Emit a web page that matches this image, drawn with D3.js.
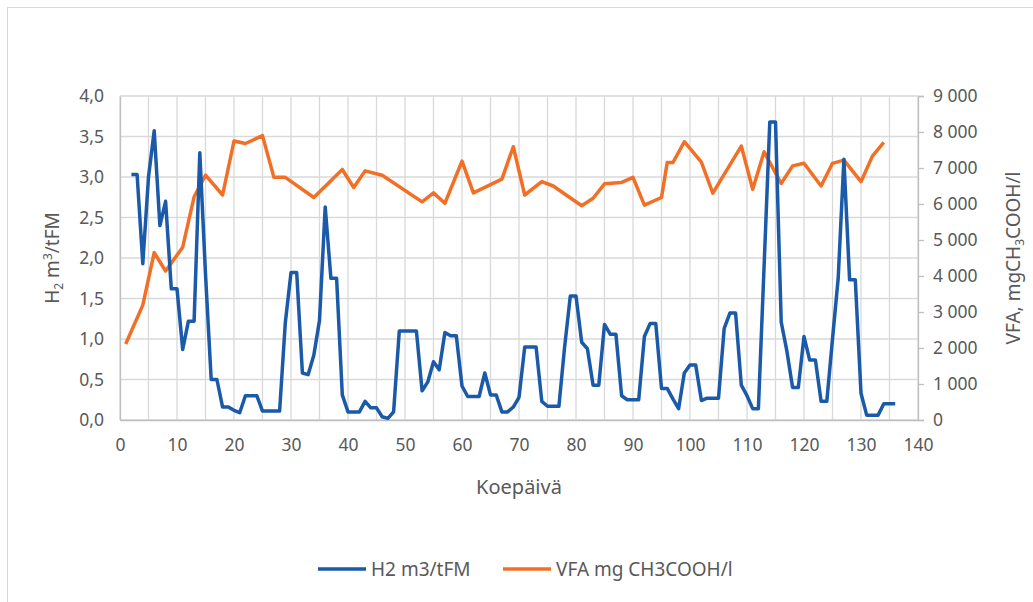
<!DOCTYPE html>
<html>
<head>
<meta charset="utf-8">
<script src="https://cdn.jsdelivr.net/npm/d3@7"></script>
<style>
  body { margin: 0; background: #fff; }
  text { font-family: "Noto Sans", sans-serif; fill: #595959; }
</style>
</head>
<body>
<div id="chart"></div>
<script>
// H2 yield, m3 per tonne fresh matter (left axis)
var h2Days = [2, 3, 4, 5, 6, 7, 8, 9, 10, 11, 12, 13, 14, 15, 16, 17, 18, 19, 20, 21,
    22, 23, 24, 25, 26, 27, 28, 29, 30, 31, 32, 33, 34, 35, 36, 37, 38, 39, 40, 41,
    42, 43, 44, 45, 46, 47, 48, 49, 50, 51, 52, 53, 54, 55, 56, 57, 58, 59, 60, 61,
    62, 63, 64, 65, 66, 67, 68, 69, 70, 71, 72, 73, 74, 75, 76, 77, 78, 79, 80, 81,
    82, 83, 84, 85, 86, 87, 88, 89, 90, 91, 92, 93, 94, 95, 96, 97, 98, 99, 100, 101,
    102, 103, 104, 105, 106, 107, 108, 109, 110, 111, 112, 113, 114, 115, 116, 117, 118, 119, 120, 121,
    122, 123, 124, 125, 126, 127, 128, 129, 130, 131, 132, 133, 134, 135, 136];
var h2Values = [3.03, 3.03, 1.93, 3.0, 3.57, 2.40, 2.70, 1.62, 1.62, 0.87, 1.22, 1.22, 3.30, 1.80, 0.50, 0.50, 0.16, 0.16, 0.12, 0.09,
    0.30, 0.30, 0.30, 0.11, 0.11, 0.11, 0.11, 1.20, 1.82, 1.82, 0.58, 0.56, 0.80, 1.23, 2.63, 1.75, 1.75, 0.31, 0.10, 0.10,
    0.10, 0.23, 0.15, 0.15, 0.04, 0.02, 0.10, 1.10, 1.10, 1.10, 1.10, 0.36, 0.47, 0.72, 0.62, 1.08, 1.04, 1.04, 0.42, 0.29,
    0.29, 0.29, 0.58, 0.31, 0.31, 0.10, 0.10, 0.16, 0.28, 0.90, 0.90, 0.90, 0.23, 0.17, 0.17, 0.17, 0.90, 1.53, 1.53, 0.96,
    0.88, 0.43, 0.43, 1.18, 1.06, 1.06, 0.30, 0.25, 0.25, 0.25, 1.03, 1.19, 1.19, 0.39, 0.39, 0.26, 0.14, 0.58, 0.68, 0.68,
    0.24, 0.27, 0.27, 0.27, 1.13, 1.32, 1.32, 0.43, 0.30, 0.14, 0.14, 1.90, 3.68, 3.68, 1.21, 0.85, 0.40, 0.40, 1.03, 0.74,
    0.74, 0.23, 0.23, 1.00, 1.75, 3.22, 1.73, 1.73, 0.33, 0.06, 0.06, 0.06, 0.20, 0.20, 0.20];

// VFA, mg CH3COOH/l (right axis)
var vfaDays = [1, 4, 6, 8, 11, 13, 15, 18, 20, 22, 25, 27, 29, 34, 39, 41, 43, 46, 53, 55,
    57, 60, 62, 67, 69, 71, 74, 76, 81, 83, 85, 88, 90, 92, 95, 96, 97, 99, 102, 104,
    109, 111, 113, 116, 118, 120, 123, 125, 127, 130, 132, 134];
var vfaValues = [2110, 3190, 4650, 4140, 4800, 6200, 6800, 6250, 7750, 7680, 7900, 6740, 6740, 6180, 6960, 6460, 6920, 6800, 6060, 6310,
    6020, 7190, 6310, 6690, 7590, 6250, 6620, 6500, 5950, 6160, 6560, 6600, 6740, 5970, 6180, 7150, 7150, 7730, 7160, 6300,
    7610, 6410, 7450, 6570, 7060, 7130, 6500, 7130, 7220, 6620, 7330, 7710];

var xTicks = [0, 10, 20, 30, 40, 50, 60, 70, 80, 90, 100, 110, 120, 130, 140];
var xGrid = [0, 5, 10, 15, 20, 25, 30, 35, 40, 45, 50, 55, 60, 65, 70, 75, 80, 85, 90, 95, 100, 105, 110, 115, 120, 125, 130, 135, 140];
var leftTicks = [0, 0.5, 1.0, 1.5, 2.0, 2.5, 3.0, 3.5, 4.0];
var rightTicks = [0, 1000, 2000, 3000, 4000, 5000, 6000, 7000, 8000, 9000];

var W = 1033, H = 602;
var margin = {top: 96, right: 115, bottom: 182, left: 120};
var width = W - margin.left - margin.right,
    height = H - margin.top - margin.bottom;

var blue = "#1a5aa9", orange = "#f26f26", grid = "#d9d9d9";

var svg = d3.select("#chart").append("svg")
    .attr("width", W)
    .attr("height", H);

// chart area border
svg.append("rect")
    .attr("x", 7.5).attr("y", 7.5)
    .attr("width", W).attr("height", H)
    .attr("fill", "none")
    .attr("stroke", grid);

var g = svg.append("g")
    .attr("transform", "translate(" + margin.left + "," + margin.top + ")");

var x = d3.scaleLinear().domain([0, 140]).range([0, width]);
var yL = d3.scaleLinear().domain([0, 4]).range([height, 0]);
var yR = d3.scaleLinear().domain([0, 9000]).range([height, 0]);

// gridlines
g.append("g").selectAll("line")
    .data(xGrid)
    .enter().append("line")
    .attr("x1", d => x(d)).attr("x2", d => x(d))
    .attr("y1", 0).attr("y2", height)
    .attr("stroke", grid).attr("stroke-width", 1.3);

g.append("g").selectAll("line")
    .data(leftTicks)
    .enter().append("line")
    .attr("x1", 0).attr("x2", width)
    .attr("y1", d => yL(d)).attr("y2", d => yL(d))
    .attr("stroke", grid).attr("stroke-width", 1.3);

// axes
var fmtL = d => d3.format(".1f")(d).replace(".", ",");
var fmtR = d => d3.format(",")(d).replace(",", " ");

var xAxis = g.append("g")
    .attr("transform", "translate(0," + height + ")")
    .call(d3.axisBottom(x).tickValues(xTicks).tickSize(0).tickPadding(19).tickFormat(d3.format("d")));
var leftAxis = g.append("g")
    .call(d3.axisLeft(yL).tickValues(leftTicks).tickSize(0).tickPadding(16).tickFormat(fmtL));
var rightAxis = g.append("g")
    .attr("transform", "translate(" + width + ",0)")
    .call(d3.axisRight(yR).tickValues(rightTicks).tickSize(6).tickPadding(9).tickFormat(fmtR));

[xAxis, leftAxis, rightAxis].forEach(function (a) {
    a.select(".domain").attr("stroke", "#bfbfbf").attr("stroke-width", 1.3);
    a.selectAll(".tick line").attr("stroke", "#bfbfbf").attr("stroke-width", 1.3);
    a.selectAll("text")
        .attr("font-family", "Noto Sans")
        .attr("font-size", "17.5px")
        .attr("fill", "#595959");
});

// lines
var vfaLine = d3.line()
    .x((d, i) => x(vfaDays[i]))
    .y(d => yR(d));
var h2Line = d3.line()
    .x((d, i) => x(h2Days[i]))
    .y(d => yL(d));

g.append("path")
    .datum(vfaValues)
    .attr("d", vfaLine)
    .attr("fill", "none")
    .attr("stroke", orange)
    .attr("stroke-width", 3.5)
    .attr("stroke-linejoin", "round");

g.append("path")
    .datum(h2Values)
    .attr("d", h2Line)
    .attr("fill", "none")
    .attr("stroke", blue)
    .attr("stroke-width", 3.5)
    .attr("stroke-linejoin", "round");

// axis titles
svg.append("text")
    .attr("x", margin.left + width / 2)
    .attr("y", 494)
    .attr("text-anchor", "middle")
    .attr("font-size", "20px")
    .text("Koepäivä");

var lt = svg.append("text")
    .attr("transform", "translate(59," + (margin.top + height / 2) + ") rotate(-90)")
    .attr("text-anchor", "middle")
    .attr("font-size", "19px");
lt.append("tspan").text("H");
lt.append("tspan").attr("font-size", "12px").attr("dy", 4).text("2");
lt.append("tspan").attr("dy", -4).text(" m");
lt.append("tspan").attr("font-size", "12px").attr("dy", -7).text("3");
lt.append("tspan").attr("dy", 7).text("/tFM");

var rt = svg.append("text")
    .attr("transform", "translate(1020," + (margin.top + height / 2) + ") rotate(-90)")
    .attr("text-anchor", "middle")
    .attr("font-size", "19px");
rt.append("tspan").text("VFA, mgCH");
rt.append("tspan").attr("font-size", "12px").attr("dy", 4).text("3");
rt.append("tspan").attr("dy", -4).text("COOH/l");

// legend
var legendItems = [
    {name: "H2 m3/tFM", color: blue, x: 318},
    {name: "VFA mg CH3COOH/l", color: orange, x: 503}
];
var lg = svg.append("g").selectAll("g")
    .data(legendItems)
    .enter().append("g")
    .attr("transform", d => "translate(" + d.x + ",569)");
lg.append("line")
    .attr("x1", 0).attr("x2", 48)
    .attr("stroke", d => d.color)
    .attr("stroke-width", 3.5);
lg.append("text")
    .attr("x", 53)
    .attr("dy", "0.36em")
    .attr("font-size", "19px")
    .text(d => d.name);
</script>
</body>
</html>
